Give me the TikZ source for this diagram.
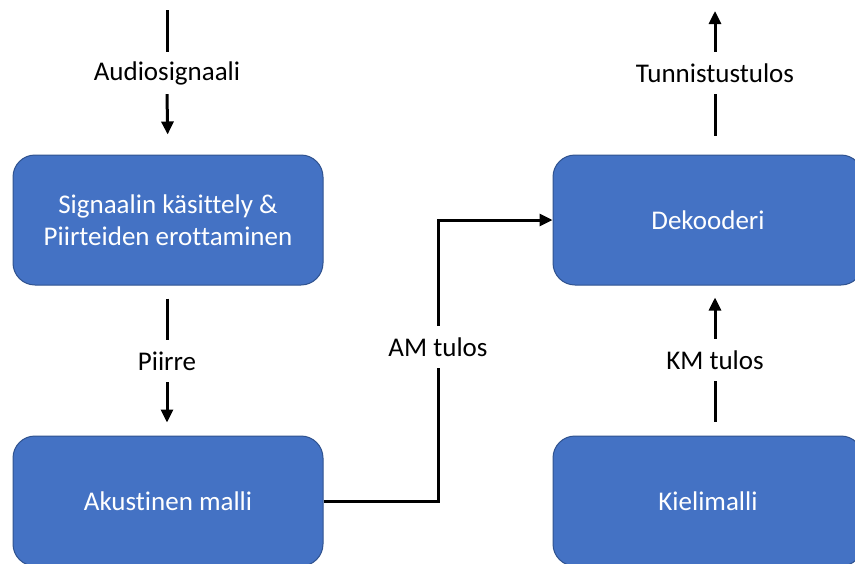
\documentclass[tikz,border=0pt]{standalone}
\usepackage{fontspec}
\setmainfont{Carlito}[Ligatures={NoCommon,NoContextual}]
\usetikzlibrary{arrows.meta}
\definecolor{boxblue}{HTML}{4472C4}
\definecolor{boxedge}{HTML}{2F528F}
\begin{document}
\begin{tikzpicture}[x=1pt,y=-1pt,
  box/.style={draw=boxedge, line width=1pt, fill=boxblue, rounded corners=22pt,
    minimum width=310pt, minimum height=130pt, text=white,
    font=\fontsize{27}{32}\selectfont, align=center, inner sep=0pt},
  lbl/.style={font=\fontsize{27}{32}\selectfont, inner sep=0pt, minimum height=42pt},
  conn/.style={line width=3pt},
  arr/.style={conn, -{Triangle[length=13pt,width=12pt]}}]
\useasboundingbox (0,0) rectangle (855,563);
\clip (0,0) rectangle (855,563);
\node[box] (sig) at (168,220) {Signaalin käsittely \&\\Piirteiden erottaminen};
\node[box] (am) at (168,501) {Akustinen malli};
\node[box] (dek) at (708,220) {Dekooderi};
\node[box] (km) at (708,501) {Kielimalli};
\node[lbl] (audio) at (167,73) {Audiosignaali};
\node[lbl] (piirre) at (167,361) {Piirre};
\node[lbl] (tun) at (715,73) {Tunnistustulos};
\node[lbl] (kmt) at (715,360) {KM tulos};
\node[lbl] (amt) at (438,347) {AM tulos};
\coordinate (in) at (167,10);
\coordinate (out) at (715,11);
\draw[conn] (in) -- (audio.north);
\draw[arr, shorten >=20pt] (audio.south) -- (sig.north);
\draw[conn, shorten <=13pt] (piirre |- sig.south) -- (piirre.north);
\draw[arr, shorten >=13pt] (piirre.south) -- (piirre |- am.north);
\draw[arr] (tun.north) -- (out);
\draw[conn, shorten <=19pt] (tun |- dek.north) -- (tun.south);
\draw[arr, shorten >=12pt] (kmt.north) -- (kmt |- dek.south);
\draw[conn, shorten <=14pt] (kmt |- km.north) -- (kmt.south);
\draw[conn] (am.east) -| (amt.south);
\draw[arr] (amt.north) |- (dek.west);
\end{tikzpicture}
\end{document}
